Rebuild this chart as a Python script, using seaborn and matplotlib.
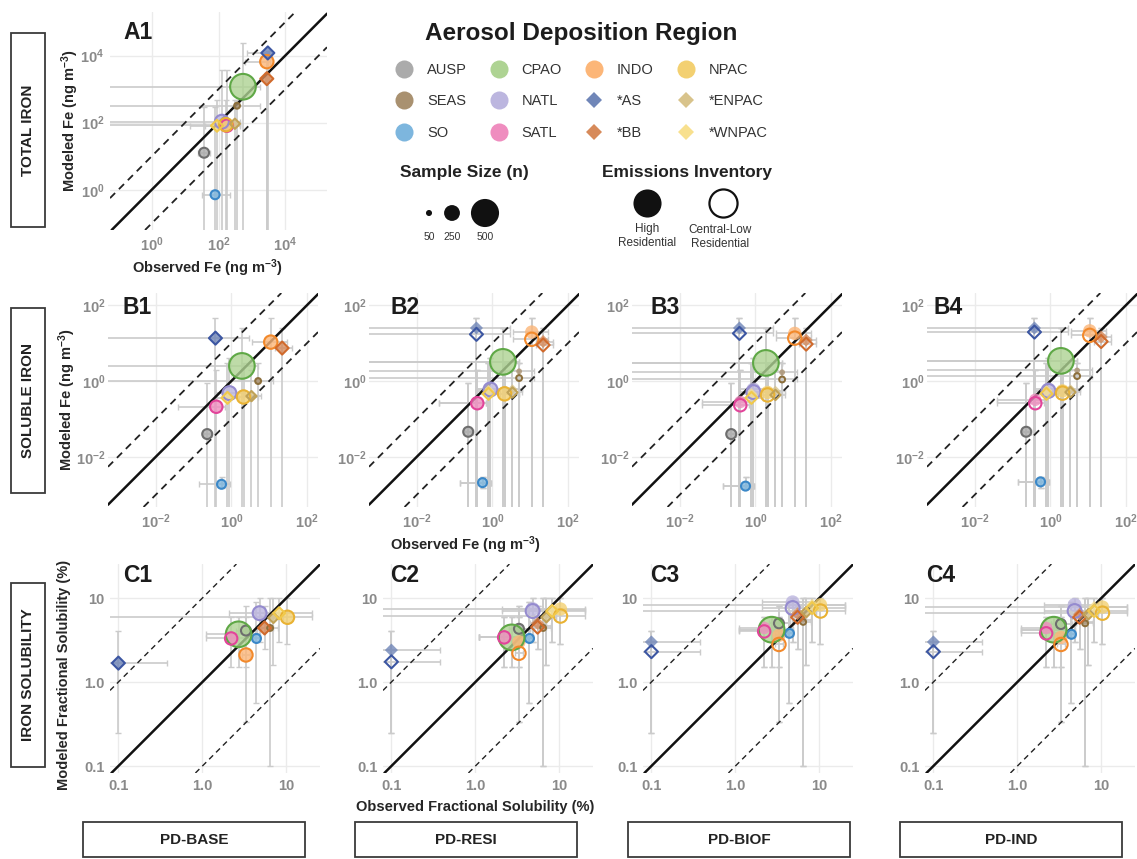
import numpy as np
import pandas as pd
import matplotlib
matplotlib.use("Agg")
import matplotlib.pyplot as plt
import seaborn as sns
from matplotlib.lines import Line2D
from matplotlib.patches import Rectangle

sns.set_theme(style="white")
plt.rcParams["font.family"] = ["Liberation Sans", "DejaVu Sans"]
plt.rcParams["mathtext.fontset"] = "custom"
plt.rcParams["mathtext.rm"] = "Liberation Sans"
plt.rcParams["mathtext.bf"] = "Liberation Sans:bold"
plt.rcParams["mathtext.default"] = "bf"

# ---------------------------------------------------------------- regions
regions = ["AUSP", "SEAS", "SO", "CPAO", "NATL", "SATL", "INDO",
           "*AS", "*BB", "NPAC", "*ENPAC", "*WNPAC"]
marker_shape = ["o", "o", "o", "o", "o", "o", "o", "D", "D", "o", "D", "D"]
sample_n = [130, 45, 110, 450, 210, 180, 200, 115, 115, 200, 75, 100]
fill_hex = ["#ababab", "#a99170", "#7db6de", "#aed393", "#bcb6df", "#ef8dbf",
            "#fcb678", "#7086b8", "#d78a5a", "#f3d071", "#d8c38b", "#f8e08e"]
edge_hex = ["#6e6e6e", "#8c6f3c", "#3b88c8", "#5fa846", "#958bcf", "#e2449a",
            "#f2892b", "#3c56a2", "#d06a2c", "#e9b233", "#c0a257", "#f1c94b"]

# ---------------------------------------------------------------- total iron (ng m-3)
total_obs = [37, 360, 79, 540, 126, 178, 2800, 3000, 2800, 166, 310, 90]
total_obs_lo = [25, 1e-3, 31, 1e-3, 1e-3, 14, 620, 710, 2400, 1e-3, 150, 40]
total_obs_hi = [55, 1750, 220, 1750, 450, 450, 3500, 3300, 3200, 450, 450, 300]
total_base = [12.7, 320, 0.71, 1180, 107, 81, 6600, 12000, 2050, 87, 93, 81]
total_mod_lo = [1e-3, 1e-3, 1e-3, 1e-3, 1e-3, 1e-3, 1e-3, 1e-3, 1e-3, 1e-3, 1e-3, 1e-3]
total_mod_hi = [300, 490, 300, 24000, 3800, 3800, 9000, 14000, 3000, 490, 490, 490]

# ---------------------------------------------------------------- soluble iron (ng m-3)
soluble_obs = [0.23, 5.1, 0.55, 1.9, 0.89, 0.40, 11, 0.38, 22, 2.1, 3.4, 0.79]
soluble_obs_lo = [0.18, 1e-5, 0.14, 1e-5, 0.38, 0.04, 3.6, 1e-5, 14, 0.9, 2.0, 0.4]
soluble_obs_hi = [0.30, 12.7, 0.9, 5.0, 2.3, 0.7, 30, 3.0, 40, 5.0, 6.0, 1.6]
soluble_mod_lo = [1e-6, 1e-6, 0.0015, 1e-6, 1e-6, 1e-6, 1e-6, 1e-6, 1e-6, 1e-6, 1e-6, 1e-6]
soluble_mod_hi = [0.9, 3.0, 0.003, 25, 4.0, 2.0, 45, 45, 25, 3.0, 2.0, 3.0]
soluble_base = [0.04, 1.0, 0.0019, 2.5, 0.48, 0.21, 10.6, 13.5, 7.4, 0.38, 0.4, 0.36]
soluble_resi_high = [0.046, 1.8, 0.0021, 3.2, 0.6, 0.26, 19.5, 25, 11, 0.46, 0.6, 0.55]
soluble_resi_low = [0.046, 1.2, 0.0021, 3.2, 0.6, 0.26, 12.6, 17, 8.9, 0.46, 0.5, 0.46]
soluble_biof_high = [0.04, 1.7, 0.0017, 3.0, 0.6, 0.28, 18, 25, 12, 0.5, 0.55, 0.45]
soluble_biof_low = [0.04, 1.1, 0.0017, 3.0, 0.51, 0.23, 13.5, 18, 9.4, 0.43, 0.43, 0.36]
soluble_ind_high = [0.046, 1.9, 0.0022, 3.4, 0.6, 0.32, 21, 25, 14.5, 0.55, 0.6, 0.55]
soluble_ind_low = [0.046, 1.35, 0.0022, 3.4, 0.55, 0.26, 16, 19.5, 11, 0.48, 0.51, 0.46]

# ---------------------------------------------------------------- fractional solubility (%)
frac_obs = [3.3, 6.4, 4.4, 2.7, 4.8, 2.2, 3.3, 0.1, 5.5, 10.3, 7.0, 8.2]
frac_obs_lo = [2.5, 5.0, 4.0, 1.1, 2.1, 1.1, 3.0, 0.01, 4.5, 1e-4, 5.0, 4.0]
frac_obs_hi = [4.5, 8.0, 4.8, 4.8, 9.0, 3.5, 3.7, 0.38, 7.0, 20, 9.0, 20]
frac_mod_lo = [1.5, 0.1, 0.56, 1.5, 3.0, 1.5, 0.33, 0.25, 2.5, 2.8, 1.6, 3.0]
frac_mod_hi = [6.0, 10, 9.0, 6.0, 10, 6.0, 8.0, 4.0, 8.0, 10, 10, 10]
frac_base = [4.1, 4.4, 3.3, 3.7, 6.6, 3.3, 2.1, 1.68, 4.4, 5.9, 5.8, 6.6]
frac_resi_high = [4.3, 4.6, 3.3, 3.4, 7.4, 3.4, 3.0, 2.4, 5.0, 7.4, 6.0, 7.2]
frac_resi_low = [4.3, 4.4, 3.3, 3.4, 7.0, 3.4, 2.2, 1.74, 4.5, 6.1, 5.9, 7.0]
frac_biof_high = [5.0, 5.5, 3.8, 4.2, 8.9, 4.4, 3.6, 3.0, 6.5, 8.3, 7.0, 8.3]
frac_biof_low = [5.0, 5.2, 3.8, 4.2, 7.6, 4.0, 2.8, 2.3, 5.9, 7.0, 6.8, 7.6]
frac_ind_high = [4.9, 5.2, 3.7, 4.2, 8.3, 4.4, 3.4, 3.0, 6.4, 7.8, 6.6, 7.8]
frac_ind_low = [4.9, 5.0, 3.7, 4.2, 7.0, 3.8, 2.8, 2.3, 5.9, 6.6, 6.4, 7.0]

# ---------------------------------------------------------------- axis labels / ticks
total_ticks = [1, 100, 10000]
total_ticklabels = [r"$10^{0}$", r"$10^{2}$", r"$10^{4}$"]
soluble_ticks = [0.01, 1, 100]
soluble_ticklabels = [r"$10^{-2}$", r"$10^{0}$", r"$10^{2}$"]
frac_ticks = [0.1, 1, 10]
frac_ticklabels = ["0.1", "1.0", "10"]
scenario_names = ["PD-BASE", "PD-RESI", "PD-BIOF", "PD-IND"]
row_names = ["TOTAL IRON", "SOLUBLE IRON", "IRON SOLUBILITY"]
size_key_n = [50, 250, 500]

# ---------------------------------------------------------------- styling
fill_pal = dict(zip(regions, fill_hex))
edge_pal = dict(zip(regions, edge_hex))
marker_map = dict(zip(regions, marker_shape))
ERR = "#cbcbcb"
GRID = "#ebebeb"
TICK = "#8a8a8a"
DARK = "#262626"


def marker_area(n):
    diameter_px = 3.6 + 0.049 * n
    return (diameter_px * 0.72) ** 2


size_map = {n: marker_area(n) for n in sorted(set(sample_n))}

W, H = 1137, 859
fig = plt.figure(figsize=(W / 100, H / 100), dpi=100)
fig.patch.set_facecolor("white")


def add_px_axes(left, top, width, height):
    return fig.add_axes([left / W, 1 - (top + height) / H, width / W, height / H])


def scatter_layer(ax, obs, mod, hollow):
    df = pd.DataFrame({"obs": obs, "mod": mod, "region": regions, "n": sample_n})
    sns.scatterplot(data=df, x="obs", y="mod", hue="region", hue_order=regions,
                    palette=edge_pal if hollow else fill_pal,
                    style="region", style_order=regions, markers=marker_map,
                    size="n", sizes=size_map, linewidth=0,
                    alpha=1.0 if hollow else 0.8, legend=False, ax=ax,
                    zorder=4 if hollow else 3)
    coll = ax.collections[-1]
    if hollow:
        coll.set_edgecolors(coll.get_facecolors())
        coll.set_facecolors("none")
        coll.set_linewidths(1.5)


def error_layer(ax, obs, obs_lo, obs_hi, mod, mod_lo, mod_hi):
    x = np.array(obs, float)
    y = np.array(mod, float)
    xerr = [x - np.array(obs_lo), np.array(obs_hi) - x]
    yerr = [y - np.array(mod_lo), np.array(mod_hi) - y]
    ax.errorbar(x, y, xerr=xerr, yerr=yerr, fmt="none", ecolor=ERR,
                elinewidth=1.2, capsize=2.5, capthick=1.0, zorder=1)


def draw_panel(ax, obs, obs_lo, obs_hi, mod_high, mod_low, mod_lo, mod_hi,
               xlim, ylim, ticks, ticklabels, tag, tag_x, tag_y, dash_lw, ypad=4):
    ax.set_xscale("log")
    ax.set_yscale("log")
    ax.set_facecolor("none")
    for s in ax.spines.values():
        s.set_visible(False)

    error_layer(ax, obs, obs_lo, obs_hi, mod_high, mod_lo, mod_hi)
    if mod_low is not mod_high:
        error_layer(ax, obs, obs_lo, obs_hi, mod_low, mod_lo, mod_hi)

    ax.axline((1, 1), (10, 10), color="#111111", lw=1.8, zorder=2)
    for p, q in [((1, 10), (10, 100)), ((10, 1), (100, 10))]:
        ax.axline(p, q, color="#222222", lw=dash_lw, ls=(0, (4, 3)), zorder=2)

    scatter_layer(ax, obs, mod_high, hollow=False)
    scatter_layer(ax, obs, mod_low, hollow=True)

    ax.set_xlim(xlim)
    ax.set_ylim(ylim)
    ax.minorticks_off()
    ax.set_xticks(ticks)
    ax.set_yticks(ticks)
    ax.set_xticklabels(ticklabels, fontweight="bold")
    ax.set_yticklabels(ticklabels, fontweight="bold")
    ax.tick_params(length=0, labelsize=10.5, labelcolor=TICK, pad=4)
    ax.tick_params(axis="y", pad=ypad)
    ax.grid(True, which="major", color=GRID, lw=1.0)
    ax.set_axisbelow(True)
    ax.set_xlabel("")
    ax.set_ylabel("")
    ax.text(tag_x, tag_y, tag, transform=ax.transAxes, ha="center", va="center",
            fontsize=16.5, fontweight="bold", color="#1c1c1c", zorder=6)


label_kw = dict(fontsize=10.5, fontweight="bold", color=DARK)

# ---------------------------------------------------------------- row A
total_lim = ((10 ** -1.25, 10 ** 5.25), (10 ** -1.2, 10 ** 5.3))
axA = add_px_axes(110, 12, 217, 218)
draw_panel(axA, total_obs, total_obs_lo, total_obs_hi, total_base, total_base,
           total_mod_lo, total_mod_hi, total_lim[0], total_lim[1],
           total_ticks, total_ticklabels, "A1", 0.13, 0.905, 1.3)
axA.set_xlabel("Observed Fe (ng m$^{-3}$)", **label_kw)
axA.set_ylabel("Modeled Fe (ng m$^{-3}$)", **label_kw)
axA.xaxis.set_label_coords(0.45, -0.124)
axA.yaxis.set_label_coords(-0.134, 0.5)

# ---------------------------------------------------------------- row B
soluble_lim = ((10 ** -3.26, 10 ** 2.29), (10 ** -3.32, 10 ** 2.32))
soluble_runs = [(soluble_base, soluble_base), (soluble_resi_high, soluble_resi_low),
                (soluble_biof_high, soluble_biof_low), (soluble_ind_high, soluble_ind_low)]
b_left = [108, 369, 632, 927]
b_tag_x = [0.14, 0.17, 0.157, 0.10]
axesB = []
for i, (hi, lo) in enumerate(soluble_runs):
    ax = add_px_axes(b_left[i], 293, 210, 214)
    draw_panel(ax, soluble_obs, soluble_obs_lo, soluble_obs_hi, hi, lo,
               soluble_mod_lo, soluble_mod_hi, soluble_lim[0], soluble_lim[1],
               soluble_ticks, soluble_ticklabels, f"B{i + 1}", b_tag_x[i], 0.93, 1.3,
               ypad=2)
    axesB.append(ax)
axesB[0].set_ylabel("Modeled Fe (ng m$^{-3}$)", **label_kw)
axesB[0].yaxis.set_label_coords(-0.142, 0.5)
axesB[1].set_xlabel("Observed Fe (ng m$^{-3}$)", **label_kw)
axesB[1].xaxis.set_label_coords(0.46, -0.127)

# ---------------------------------------------------------------- row C
frac_lim = ((10 ** -1.1, 10 ** 1.4), (10 ** -1.083, 10 ** 1.405))
frac_runs = [(frac_base, frac_base), (frac_resi_high, frac_resi_low),
             (frac_biof_high, frac_biof_low), (frac_ind_high, frac_ind_low)]
c_left = [110, 383, 643, 925]
c_tag_x = [0.13, 0.105, 0.105, 0.075]
axesC = []
for i, (hi, lo) in enumerate(frac_runs):
    ax = add_px_axes(c_left[i], 564, 210, 209)
    draw_panel(ax, frac_obs, frac_obs_lo, frac_obs_hi, hi, lo,
               frac_mod_lo, frac_mod_hi, frac_lim[0], frac_lim[1],
               frac_ticks, frac_ticklabels, f"C{i + 1}", c_tag_x[i], 0.945, 1.0)
    axesC.append(ax)
axesC[0].set_ylabel("Modeled Fractional Solubility (%)", **label_kw)
axesC[0].yaxis.set_label_coords(-0.186, 0.47)
axesC[1].set_xlabel("Observed Fractional Solubility (%)", **label_kw)
axesC[1].xaxis.set_label_coords(0.44, -0.129)


# ---------------------------------------------------------------- framed captions
def px_box(left, top, width, height, text, rotation=0):
    fig.add_artist(Rectangle((left / W, 1 - (top + height) / H), width / W, height / H,
                             transform=fig.transFigure, fill=False,
                             edgecolor="#3a3a3a", linewidth=1.3))
    fig.text((left + width / 2) / W, 1 - (top + height / 2) / H, text,
             rotation=rotation, ha="center", va="center", fontsize=11,
             fontweight="bold", color="#222222")


for (top, h), name in zip([(33, 194), (308, 185), (583, 184)], row_names):
    px_box(11, top, 34, h, name, rotation=90)
for left, name in zip([83, 355, 628, 900], scenario_names):
    px_box(left, 822, 222, 35, name)

# ---------------------------------------------------------------- region legend
handles = [Line2D([], [], linestyle="none", marker=marker_map[r],
                  markersize=13 if marker_map[r] == "o" else 8.5,
                  markerfacecolor=fill_pal[r], markeredgewidth=0)
           for r in regions]
leg = fig.legend(handles=handles, labels=regions, ncol=4, loc="upper center",
                 bbox_to_anchor=(581 / W, 1 - 15 / H), frameon=False,
                 title="Aerosol Deposition Region",
                 title_fontproperties={"weight": "bold", "size": 17.5},
                 fontsize=10.5, handlelength=1.3, handletextpad=0.92,
                 columnspacing=1.55, labelspacing=1.2, borderpad=0)
for t in leg.get_texts():
    t.set_color("#333333")
leg.get_title().set_color("#1c1c1c")

# ---------------------------------------------------------------- size / inventory keys
key = fig.add_axes([0, 0, 1, 1], facecolor="none")
key.set_xlim(0, W)
key.set_ylim(H, 0)
key.axis("off")
key.text(464, 172, "Sample Size (n)", ha="center", va="center", fontsize=12.5,
         fontweight="bold", color="#222222")
key_x = [429, 452, 485]
key.scatter(key_x, [213, 213, 213], s=[marker_area(n) for n in size_key_n],
            color="#111111", linewidth=0)
for x, n in zip(key_x, size_key_n):
    key.text(x, 237, str(n), ha="center", va="center", fontsize=7.5, color="#333333")

key.text(687, 172, "Emissions Inventory", ha="center", va="center", fontsize=12.5,
         fontweight="bold", color="#222222")
key.scatter([647], [203], s=marker_area(500), color="#111111", linewidth=0)
key.scatter([723], [203], s=marker_area(500), facecolor="white",
            edgecolor="#111111", linewidth=1.6)
key.text(647, 236, "High\nResidential", ha="center", va="center", fontsize=8.5,
         color="#333333", linespacing=1.15)
key.text(720, 237, "Central-Low\nResidential", ha="center", va="center",
         fontsize=8.5, color="#333333", linespacing=1.15)

fig.savefig("out.png", dpi=100, facecolor="white")
